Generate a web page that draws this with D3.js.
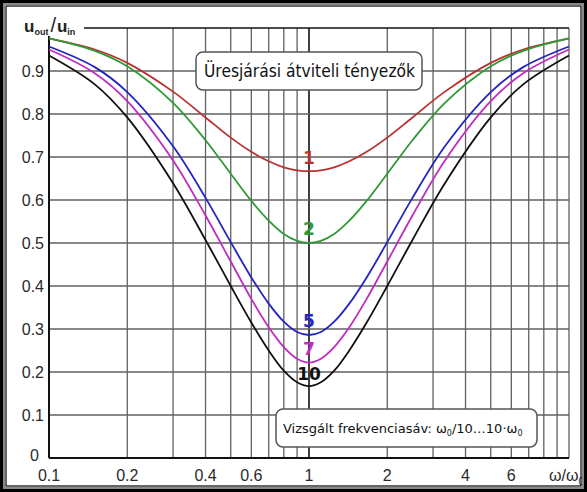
<!DOCTYPE html>
<html>
<head>
<meta charset="utf-8">
<script src="https://cdn.jsdelivr.net/npm/d3@7"></script>
<style>
  body { margin: 0; background: #ffffff; }
  svg { display: block; }
</style>
</head>
<body>
<div id="chart"></div>
<script>
// Data (normalised frequency w/w0 and u_out/u_in)
var omega = [0.1, 0.15, 0.2, 0.3, 0.4, 0.5, 0.6, 0.7, 0.8, 0.9, 1,
             1.111, 1.25, 1.4286, 1.6667, 2, 2.5, 3.333, 5, 6.667, 10];

var curve1 = [0.976, 0.950, 0.919, 0.852, 0.792, 0.745, 0.712, 0.690, 0.676, 0.669, 0.667,
              0.669, 0.676, 0.690, 0.712, 0.745, 0.792, 0.852, 0.919, 0.950, 0.976];
var curve2 = [0.976, 0.947, 0.911, 0.826, 0.739, 0.661, 0.598, 0.552, 0.521, 0.505, 0.500,
              0.505, 0.521, 0.552, 0.598, 0.661, 0.739, 0.826, 0.911, 0.947, 0.976];
var curve5 = [0.957, 0.909, 0.851, 0.725, 0.605, 0.502, 0.420, 0.359, 0.317, 0.293, 0.286,
              0.293, 0.317, 0.359, 0.420, 0.502, 0.605, 0.725, 0.851, 0.909, 0.957];
var curve7 = [0.950, 0.895, 0.830, 0.692, 0.564, 0.457, 0.370, 0.304, 0.258, 0.231, 0.222,
              0.231, 0.258, 0.304, 0.370, 0.457, 0.564, 0.692, 0.830, 0.895, 0.950];
var curve10 = [0.936, 0.869, 0.792, 0.639, 0.507, 0.400, 0.315, 0.250, 0.203, 0.176, 0.167,
               0.176, 0.203, 0.250, 0.315, 0.400, 0.507, 0.639, 0.792, 0.869, 0.936];

var curveNames = ["1", "2", "5", "7", "10"];
var curveColors = ["#b83232", "#2f9a35", "#2424c0", "#c02cc0", "#111111"];

// grid / tick values
var xGrid = [0.1, 0.2, 0.3, 0.4, 0.5, 0.6, 0.7, 0.8, 0.9, 1, 2, 3, 4, 5, 6, 7, 8, 9, 10];
var xTickLabels = [0.1, 0.2, 0.4, 0.6, 1, 2, 4, 6];
var yGrid = [0.1, 0.2, 0.3, 0.4, 0.5, 0.6, 0.7, 0.8, 0.9];
var yTickLabels = [0, 0.1, 0.2, 0.3, 0.4, 0.5, 0.6, 0.7, 0.8, 0.9];

var svgWidth = 587;
var svgHeight = 492;

var margin = {top: 28, right: 18, bottom: 34, left: 49};

var svg = d3.select("#chart")
  .append("svg")
  .attr("width", svgWidth)
  .attr("height", svgHeight);

// background
svg.append("rect")
  .attr("width", svgWidth)
  .attr("height", svgHeight)
  .attr("fill", "#ffffff");

var xScale = d3.scaleLog()
  .domain([0.1, 10])
  .range([margin.left, svgWidth - margin.right]);

var yScale = d3.scaleLinear()
  .domain([0, 1])
  .range([svgHeight - margin.bottom, margin.top]);

var gridGroup = svg.append("g");

// vertical grid lines
gridGroup.selectAll(".vgrid")
  .data(xGrid)
  .enter()
  .append("line")
  .attr("x1", d => xScale(d))
  .attr("x2", d => xScale(d))
  .attr("y1", yScale(0))
  .attr("y2", yScale(1))
  .attr("stroke", d => d === 1 ? "#111" : "#606060")
  .attr("stroke-width", d => d === 1 ? 1.6 : 1.3);

// horizontal grid lines
gridGroup.selectAll(".hgrid")
  .data(yGrid)
  .enter()
  .append("line")
  .attr("x1", xScale(0.1))
  .attr("x2", xScale(10))
  .attr("y1", d => yScale(d))
  .attr("y2", d => yScale(d))
  .attr("stroke", "#606060")
  .attr("stroke-width", 1.3);

// top line (1.0) and axes
gridGroup.append("line")
  .attr("x1", xScale(0.1)).attr("x2", xScale(10))
  .attr("y1", yScale(1)).attr("y2", yScale(1))
  .attr("stroke", "#111").attr("stroke-width", 1.6);

gridGroup.append("line")
  .attr("x1", xScale(0.1)).attr("x2", xScale(10))
  .attr("y1", yScale(0)).attr("y2", yScale(0))
  .attr("stroke", "#111").attr("stroke-width", 2);

gridGroup.append("line")
  .attr("x1", xScale(0.1)).attr("x2", xScale(0.1))
  .attr("y1", yScale(0)).attr("y2", yScale(1))
  .attr("stroke", "#111").attr("stroke-width", 2);

// curves
var allCurves = [curve1, curve2, curve5, curve7, curve10];

var lineGen = d3.line()
  .x(d => xScale(d[0]))
  .y(d => yScale(d[1]))
  .curve(d3.curveCatmullRom.alpha(0.5));

svg.append("g").selectAll("path")
  .data(allCurves)
  .enter()
  .append("path")
  .attr("d", d => lineGen(d.map((v, i) => [omega[i], v])))
  .attr("fill", "none")
  .attr("stroke", (d, i) => curveColors[i])
  .attr("stroke-width", 1.8);

// curve labels at w/w0 = 1
var labelFont = "'DejaVu Sans', 'Noto Sans', sans-serif";
var labelOffsets = [-7, -8, -8, -8, -6];

svg.append("g").selectAll("text")
  .data(allCurves)
  .enter()
  .append("text")
  .attr("x", xScale(1))
  .attr("y", (d, i) => yScale(d3.min(d)) + labelOffsets[i])
  .attr("text-anchor", "middle")
  .attr("font-family", labelFont)
  .attr("font-weight", "bold")
  .attr("font-size", "17px")
  .attr("fill", (d, i) => curveColors[i])
  .text((d, i) => curveNames[i]);

// y tick labels
var tickFont = "'Liberation Sans', Arial, sans-serif";

svg.append("g").selectAll("text")
  .data(yTickLabels)
  .enter()
  .append("text")
  .attr("x", d => d === 0 ? 39 : 44)
  .attr("y", d => yScale(d))
  .attr("dy", d => d === 0 ? "0.2em" : "0.36em")
  .attr("text-anchor", "end")
  .attr("font-family", tickFont)
  .attr("font-size", "16px")
  .attr("fill", "#2a2a2a")
  .text(d => d);

// x tick labels
svg.append("g").selectAll("text")
  .data(xTickLabels)
  .enter()
  .append("text")
  .attr("x", d => xScale(d))
  .attr("y", 481)
  .attr("text-anchor", "middle")
  .attr("font-family", tickFont)
  .attr("font-size", "16px")
  .attr("fill", "#2a2a2a")
  .text(d => d);

// x axis title (w/w0)
var xTitle = svg.append("text")
  .attr("x", 549)
  .attr("y", 481)
  .attr("font-family", tickFont)
  .attr("font-size", "16px")
  .attr("fill", "#2a2a2a");
xTitle.append("tspan").text("ω/ω");
xTitle.append("tspan").attr("dy", 4).attr("font-size", "10px").text("0");

// y axis title u_out / u_in
svg.append("rect")
  .attr("x", 22).attr("y", 14)
  .attr("width", 62).attr("height", 22)
  .attr("fill", "#ffffff");

var yTitle = svg.append("text")
  .attr("x", 24)
  .attr("y", 32)
  .attr("font-family", tickFont)
  .attr("font-weight", "bold")
  .attr("font-size", "17px")
  .attr("fill", "#222");
yTitle.append("tspan").text("u");
yTitle.append("tspan").attr("dy", 3).attr("font-size", "9px").text("out");
yTitle.append("tspan").attr("dy", -3).attr("dx", 2).attr("font-size", "20px")
  .attr("font-weight", "normal").text("/");
yTitle.append("tspan").attr("dx", 1).text("u");
yTitle.append("tspan").attr("dy", 3).attr("font-size", "9px").text("in");

// annotation boxes
var boxFont = "'DejaVu Sans', 'Noto Sans', sans-serif";

svg.append("rect")
  .attr("x", 196).attr("y", 52)
  .attr("width", 226).attr("height", 38)
  .attr("rx", 7)
  .attr("fill", "#ffffff")
  .attr("stroke", "#555")
  .attr("stroke-width", 1.5);

svg.append("text")
  .attr("x", 204)
  .attr("y", 77)
  .attr("font-family", boxFont)
  .attr("font-size", "17px")
  .attr("textLength", 211)
  .attr("lengthAdjust", "spacingAndGlyphs")
  .attr("fill", "#111")
  .text("Üresjárási átviteli tényezők");

svg.append("rect")
  .attr("x", 276).attr("y", 409)
  .attr("width", 261).attr("height", 38)
  .attr("rx", 7)
  .attr("fill", "#ffffff")
  .attr("stroke", "#555")
  .attr("stroke-width", 1.5);

var box2 = svg.append("text")
  .attr("x", 283)
  .attr("y", 433)
  .attr("font-family", boxFont)
  .attr("font-size", "13px")
  .attr("fill", "#111");
box2.append("tspan").text("Vizsgált frekvenciasáv: ω");
box2.append("tspan").attr("dy", 3).attr("font-size", "8px").text("0");
box2.append("tspan").attr("dy", -3).text("/10…10·ω");
box2.append("tspan").attr("dy", 3).attr("font-size", "8px").text("0");

// outer frame
svg.append("rect")
  .attr("x", 1.5).attr("y", 1.5)
  .attr("width", svgWidth - 3).attr("height", svgHeight - 3)
  .attr("fill", "none")
  .attr("stroke", "#000")
  .attr("stroke-width", 3);

svg.append("rect")
  .attr("x", 4).attr("y", 4)
  .attr("width", svgWidth - 8).attr("height", svgHeight - 8)
  .attr("fill", "none")
  .attr("stroke", "#888")
  .attr("stroke-width", 2);

svg.append("rect")
  .attr("x", 6).attr("y", 6)
  .attr("width", svgWidth - 12).attr("height", svgHeight - 12)
  .attr("fill", "none")
  .attr("stroke", "#000")
  .attr("stroke-width", 1.2);
</script>
</body>
</html>
